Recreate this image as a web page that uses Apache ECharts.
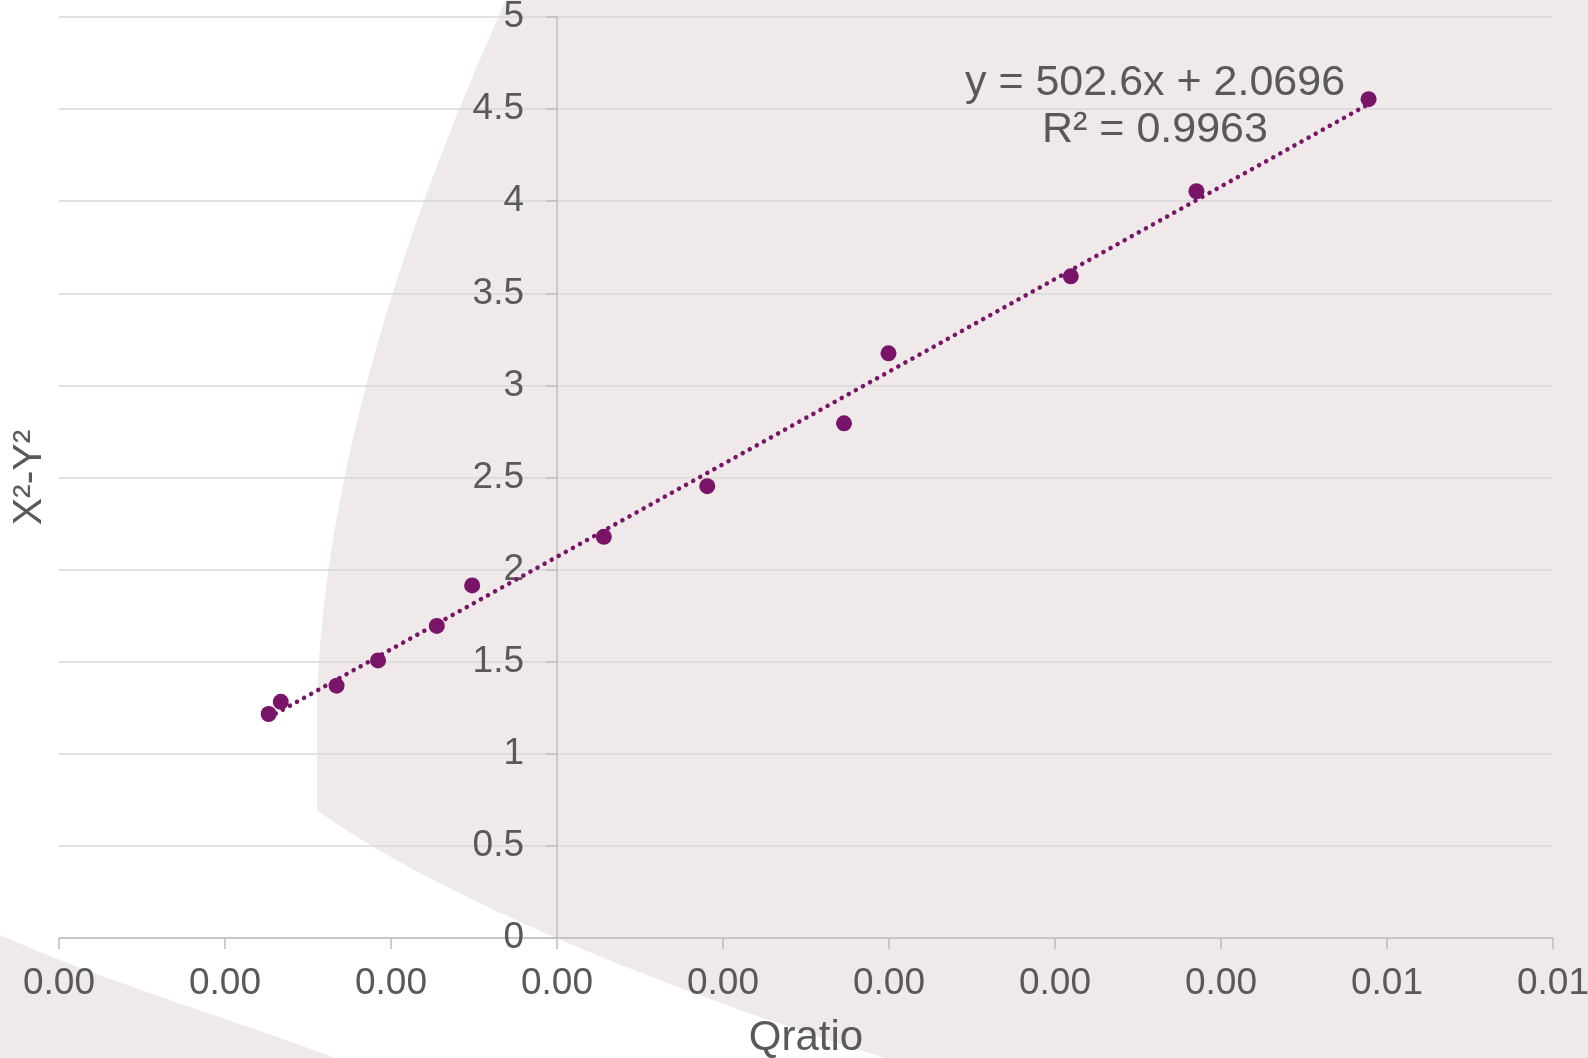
<!DOCTYPE html>
<html>
<head>
<meta charset="utf-8">
<script src="https://cdn.jsdelivr.net/npm/echarts@6/dist/echarts.min.js"></script>
<style>
html,body{margin:0;padding:0;background:#fff;}
#c{width:1588px;height:1058px;}
</style>
</head>
<body>
<div id="c"></div>
<script>
// ---- data ----
const qratio = [-0.001737, -0.001664, -0.001328, -0.001078, -0.000724, -0.000511, 0.000282, 0.000905, 0.001729, 0.001997, 0.003095, 0.003852, 0.004889];
const x2y2   = [1.216, 1.282, 1.370, 1.507, 1.694, 1.914, 2.178, 2.453, 2.794, 3.174, 3.592, 4.054, 4.554];
const trendSlope = 502.6;
const trendIntercept = 2.0696;
const trendLabel = ['y = 502.6x + 2.0696', 'R² = 0.9963'];
const xTickLabels = ['0.00','0.00','0.00','0.00','0.00','0.00','0.00','0.00','0.01','0.01'];
const xMin = -0.003, xMax = 0.006, xInterval = 0.001;
const xName = 'Qratio';
const yName = 'X²-Y²';

const points = qratio.map((q, i) => [q, x2y2[i]]);
const qLo = Math.min(...qratio), qHi = Math.max(...qratio);
const trend = [[qLo, trendSlope * qLo + trendIntercept], [qHi, trendSlope * qHi + trendIntercept]];

const FONT = "'Liberation Sans', Arial, sans-serif";
const TXT = '#595959';
const PURPLE = '#7a1468';

const W = 1588, H = 1058;
const GRID = {left: 59, right: 35, top: 17, bottom: 120};
// y axis crosses the x axis at x = 0: shift it right from the grid's left edge
const yAxisShift = (W - GRID.left - GRID.right) * (0 - xMin) / (xMax - xMin);

// decorative background shape (white swoosh) sampled from bezier curves
function bez(p0, p1, p2, p3, n) {
  const out = [];
  for (let i = 0; i <= n; i++) {
    const t = i / n, u = 1 - t;
    out.push([
      u*u*u*p0[0] + 3*u*u*t*p1[0] + 3*u*t*t*p2[0] + t*t*t*p3[0],
      u*u*u*p0[1] + 3*u*u*t*p1[1] + 3*u*t*t*p2[1] + t*t*t*p3[1]
    ]);
  }
  return out;
}
const swoosh = [[0, 0]]
  .concat(bez([506, 0], [420, 190], [325, 450], [317, 700], 40))
  .concat(bez([317, 810], [400, 872], [600, 970], [885, 1058], 40))
  .concat(bez([335, 1058], [220, 1015], [100, 980], [0, 935], 30));

const chart = echarts.init(document.getElementById('c'), null, {renderer: 'canvas'});
chart.setOption({
  backgroundColor: '#efe9ea',
  animation: false,
  textStyle: {fontFamily: FONT},
  graphic: [
    {
      type: 'polygon', z: -10, silent: true,
      shape: {points: swoosh},
      style: {fill: '#ffffff'}
    },
    {
      type: 'text', z: 10, silent: true,
      x: 1155, y: 107,
      style: {
        text: trendLabel.join('\n'),
        font: '43px ' + FONT,
        fill: TXT,
        align: 'center',
        verticalAlign: 'middle',
        lineHeight: 47
      }
    }
  ],
  grid: {left: GRID.left, right: GRID.right, top: GRID.top, bottom: GRID.bottom, containLabel: false, outerBoundsMode: 'none'},
  xAxis: {
    type: 'value',
    min: xMin, max: xMax, interval: xInterval,
    name: xName, nameLocation: 'middle', nameGap: 79,
    nameTextStyle: {fontSize: 42, color: TXT, fontFamily: FONT},
    axisLine: {show: true, lineStyle: {color: '#bfbfbf', width: 1.5}},
    axisTick: {show: true, length: 11, lineStyle: {color: '#bfbfbf', width: 1.5}},
    axisLabel: {
      fontSize: 37, color: TXT, margin: 27, fontFamily: FONT,
      formatter: v => xTickLabels[Math.round((v - xMin) / xInterval)]
    },
    splitLine: {show: false}
  },
  yAxis: {
    type: 'value',
    position: 'left',
    offset: -yAxisShift,
    min: 0, max: 5, interval: 0.5,
    name: yName, nameLocation: 'middle', nameGap: 507,
    nameTextStyle: {fontSize: 41, color: TXT, fontFamily: FONT},
    axisLine: {show: true, onZero: false, lineStyle: {color: '#bfbfbf', width: 1.5}},
    axisTick: {show: true, length: 11, lineStyle: {color: '#bfbfbf', width: 1.5}},
    axisLabel: {fontSize: 37, color: TXT, margin: 33, fontFamily: FONT},
    splitLine: {show: true, lineStyle: {color: '#d9d9d9', width: 1.5}}
  },
  series: [
    {
      type: 'line',
      data: trend,
      symbol: 'none',
      lineStyle: {color: PURPLE, width: 4.5, type: [0.1, 8], cap: 'round'},
      z: 3
    },
    {
      type: 'scatter',
      data: points,
      symbol: 'circle',
      symbolSize: 16,
      itemStyle: {color: PURPLE, opacity: 1},
      z: 4
    }
  ]
});
</script>
</body>
</html>
